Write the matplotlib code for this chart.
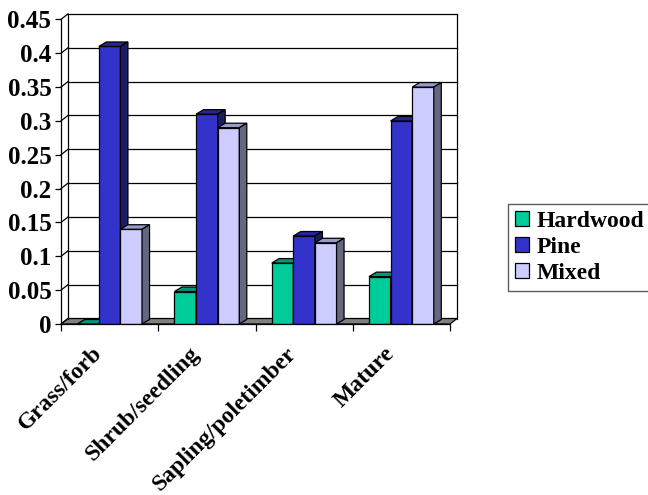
import numpy as np
import matplotlib.pyplot as plt
from matplotlib.patches import Patch
from matplotlib.transforms import offset_copy

# -------------------------
# Data
# -------------------------
categories = ["Grass/forb", "Shrub/seedling", "Sapling/poletimber", "Mature"]
series_names = ["Hardwood", "Pine", "Mixed"]
hardwood = [0.0, 0.048, 0.09, 0.07]
pine = [0.41, 0.31, 0.13, 0.30]
mixed = [0.14, 0.29, 0.12, 0.35]
y_ticks = [0, 0.05, 0.1, 0.15, 0.2, 0.25, 0.3, 0.35, 0.4, 0.45]
y_tick_labels = ["0", "0.05", "0.1", "0.15", "0.2", "0.25", "0.3", "0.35", "0.4", "0.45"]

# front, top, side colours per series
face_colors = ["#00CC99", "#3333CC", "#CCCCFF"]
top_colors = ["#009973", "#26269A", "#9999CC"]
side_colors = ["#006B50", "#1C1C66", "#666680"]

plt.rcParams["font.family"] = ["Liberation Serif", "DejaVu Serif"]
plt.rcParams["font.weight"] = "bold"

W, H = 648, 495
fig = plt.figure(figsize=(W / 100, H / 100), dpi=100)

# axes = front plane of the 3D box (pixel bounds)
x0, x1 = 61, 450
y_zero, y_top = 324, 19.4
ax = fig.add_axes([x0 / W, 1 - y_zero / H, (x1 - x0) / W, (y_zero - y_top) / H])
ymax = 0.45
ncat = len(categories)
ax.set_xlim(0, ncat)
ax.set_ylim(0, ymax)

px_x = (x1 - x0) / ncat          # pixels per category
px_y = (y_zero - y_top) / ymax    # pixels per unit

# depth offsets (pixels -> data)
wdx, wdy = 7 / px_x, 5.5 / px_y   # wall
bdx, bdy = 7.5 / px_x, 4.5 / px_y  # bars

line_kw = dict(color="black", lw=0.9, clip_on=False)

# -------------------------
# Floor and walls
# -------------------------
ax.fill([0, ncat, ncat + wdx, wdx], [0, 0, wdy, wdy],
        facecolor="#808080", edgecolor="black", lw=0.9, clip_on=False, zorder=1)

for v in y_ticks[1:]:
    ax.plot([wdx, ncat + wdx], [v + wdy, v + wdy], zorder=1, **line_kw)
for v in y_ticks:
    ax.plot([0, wdx], [v, v + wdy], zorder=1, **line_kw)
ax.plot([wdx, wdx], [wdy, ymax + wdy], zorder=1, **line_kw)
ax.plot([ncat + wdx, ncat + wdx], [wdy, ymax + wdy], zorder=1, **line_kw)

# -------------------------
# Bars
# -------------------------
values = [hardwood, pine, mixed]
n = len(values)
bw = 1 / (n + 1.5)
start = (1 - n * bw) / 2
x = np.arange(ncat)

for ci in range(ncat):
    for si in range(n):
        left = x[ci] + start + si * bw
        v = values[si][ci]
        ax.bar(left, v, width=bw, align="edge", color=face_colors[si],
               edgecolor="black", lw=0.9, zorder=3)
        ax.fill([left, left + bw, left + bw + bdx, left + bdx],
                [v, v, v + bdy, v + bdy],
                facecolor=top_colors[si], edgecolor="black", lw=0.9, zorder=3)
        ax.fill([left + bw, left + bw + bdx, left + bw + bdx, left + bw],
                [0, bdy, v + bdy, v],
                facecolor=side_colors[si], edgecolor="black", lw=0.9, zorder=3)

# -------------------------
# Axes styling
# -------------------------
for side in ["top", "right"]:
    ax.spines[side].set_visible(False)
ax.spines["left"].set_linewidth(0.9)
ax.spines["bottom"].set_linewidth(0.9)
ax.spines["bottom"].set_zorder(4)
ax.patch.set_visible(False)

ax.set_yticks(y_ticks)
ax.set_yticklabels(y_tick_labels, fontsize=18, fontweight="bold")
ax.tick_params(axis="y", direction="out", length=4, width=0.9, pad=3)

ax.set_xticks(np.arange(ncat + 1))
ax.set_xticklabels([])
ax.tick_params(axis="x", which="major", direction="out", length=5, width=0.9)

# category labels, rotated, hanging below the axis
lbl_tr = offset_copy(ax.get_xaxis_transform(), fig=fig, x=-18, y=-19, units="dots")
for ci, name in enumerate(categories):
    ax.text(x[ci] + 0.5, 0, name, transform=lbl_tr, rotation=45,
            rotation_mode="anchor", ha="right", va="top",
            fontsize=17, fontweight="bold")

# -------------------------
# Legend
# -------------------------
handles = [Patch(facecolor=c, edgecolor="black", lw=0.9) for c in face_colors]
leg = fig.legend(handles, series_names, loc="upper left",
                 bbox_to_anchor=(508 / W, 1 - 204 / H),
                 fancybox=False, frameon=True, edgecolor="#333333",
                 prop={"size": 17, "weight": "bold"},
                 handlelength=0.6, handleheight=0.6, handletextpad=0.3,
                 labelspacing=0.2, borderpad=0.3, borderaxespad=0)
leg.get_frame().set_linewidth(1.0)

fig.savefig("out.png", dpi=100)
